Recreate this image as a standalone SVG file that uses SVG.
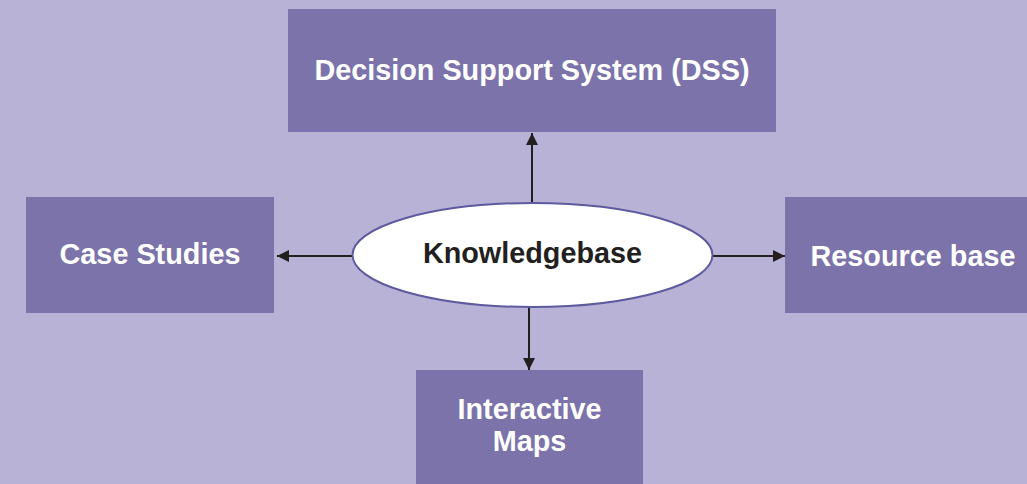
<svg xmlns="http://www.w3.org/2000/svg" width="1027" height="484" viewBox="0 0 1027 484">
<style>
.box{fill:#7b73aa}
.lbl{font-family:"Liberation Sans",Arial,sans-serif;font-weight:bold;font-size:28.8px;fill:#ffffff;text-anchor:middle}
.dark{fill:#231f20}
.conn{stroke:#231f20;stroke-width:2;fill:none}
</style>
<defs>
<marker id="arr" viewBox="0 0 10 10" refX="10" refY="5" markerWidth="12" markerHeight="12" markerUnits="userSpaceOnUse" orient="auto">
<path d="M0,0 L10,5 L0,10 Z" fill="#231f20"/>
</marker>
</defs>
<rect width="1027" height="484" fill="#b8b2d6"/>
<g id="connectors">
<line class="conn" x1="532" y1="203" x2="532" y2="133" marker-end="url(#arr)"/>
<line class="conn" x1="529" y1="295" x2="529" y2="370" marker-end="url(#arr)"/>
<line class="conn" x1="353" y1="256" x2="277" y2="256" marker-end="url(#arr)"/>
<line class="conn" x1="712" y1="256" x2="785" y2="256" marker-end="url(#arr)"/>
</g>
<g id="dss">
<rect class="box" x="288" y="9" width="488" height="123"/>
<text class="lbl" x="532" y="80">Decision Support System (DSS)</text>
</g>
<g id="case">
<rect class="box" x="26" y="197" width="248" height="116"/>
<text class="lbl" x="150" y="264">Case Studies</text>
</g>
<g id="resource">
<rect class="box" x="785" y="197" width="242" height="116"/>
<text class="lbl" x="913" y="266">Resource base</text>
</g>
<g id="maps">
<rect class="box" x="416" y="370" width="227" height="114"/>
<text class="lbl" x="529.5" y="419">Interactive</text>
<text class="lbl" x="529.5" y="451">Maps</text>
</g>
<g id="kb">
<ellipse cx="532.5" cy="255" rx="180" ry="52" fill="#ffffff" stroke="#5e5aa0" stroke-width="2"/>
<text class="lbl dark" x="532.5" y="263">Knowledgebase</text>
</g>
</svg>
